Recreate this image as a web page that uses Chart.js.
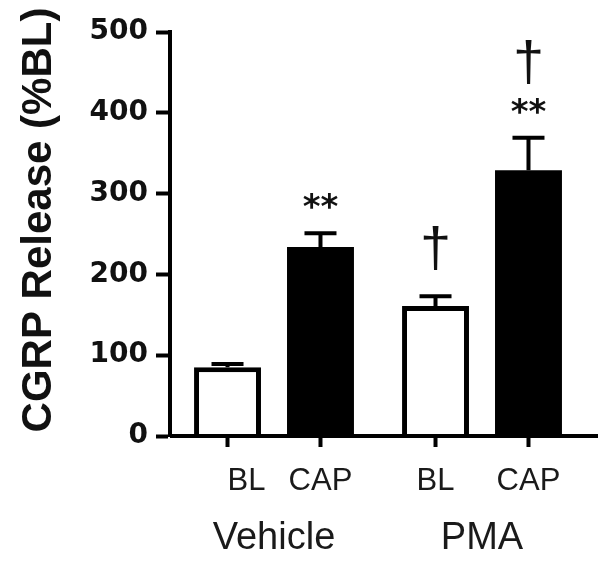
<html>
<head>
<script src="https://cdn.jsdelivr.net/npm/chart.js"></script>
<style>
  body { margin: 0; background: #fff; }
</style>
<script type="text/javascript">
// data
var groups = ['Vehicle', 'PMA'];
var conditions = ['BL', 'CAP'];
var blMeans = [85, 161];
var blErrors = [4, 12];
var capMeans = [234, 329];
var capErrors = [17, 40];
var blMarks = [[], ['\u2020']];
var capMarks = [['**'], ['**', '\u2020']];
var yTicks = [0, 100, 200, 300, 400, 500];
var yTitle = 'CGRP Release (%BL)';

var myChart = null;

// error bars, significance marks, sub labels and axis bits
var extras = {
    id: 'extras',
    afterDatasetsDraw: function (chart) {
        var ctx = chart.ctx;
        var y = chart.scales.y;
        var area = chart.chartArea;
        var errs = [blErrors, capErrors];
        var means = [blMeans, capMeans];
        var marks = [blMarks, capMarks];
        ctx.save();
        ctx.strokeStyle = '#000';
        ctx.lineWidth = 4;
        ctx.lineCap = 'butt';
        for (var d = 0; d < 2; d++) {
            var meta = chart.getDatasetMeta(d);
            for (var i = 0; i < meta.data.length; i++) {
                var bar = meta.data[i];
                var top = y.getPixelForValue(means[d][i] + errs[d][i]);
                ctx.beginPath();
                ctx.moveTo(bar.x, bar.y);
                ctx.lineTo(bar.x, top);
                ctx.moveTo(bar.x - 16, top);
                ctx.lineTo(bar.x + 16, top);
                ctx.stroke();
                // marks above the error bar, bottom-up
                var level = top;
                var daggerGap = 30;
                for (var m = 0; m < marks[d][i].length; m++) {
                    var txt = marks[d][i][m];
                    ctx.fillStyle = '#111';
                    ctx.textAlign = 'center';
                    ctx.textBaseline = 'alphabetic';
                    if (txt == '**') {
                        ctx.font = 'bold 34px "DejaVu Sans"';
                        ctx.fillText(txt, bar.x, level - 15);
                        level -= 31;
                        daggerGap = 27;
                    } else {
                        ctx.font = '56px "Liberation Sans"';
                        ctx.fillText(txt, bar.x, level - daggerGap);
                    }
                }
                // small tick under the bar and condition label
                ctx.beginPath();
                ctx.moveTo(bar.x, area.bottom);
                ctx.lineTo(bar.x, area.bottom + 11);
                ctx.stroke();
                ctx.fillStyle = '#1a1a1a';
                ctx.font = '31px "Liberation Sans"';
                ctx.textBaseline = 'middle';
                ctx.fillText(conditions[d], bar.x, area.bottom + 45);
            }
        }
        // x axis line running past the last bar
        ctx.beginPath();
        ctx.moveTo(area.left, area.bottom);
        ctx.lineTo(area.right + 12, area.bottom);
        ctx.stroke();
        // y axis title
        ctx.translate(39, 220);
        ctx.rotate(-Math.PI / 2);
        ctx.fillStyle = '#111';
        ctx.font = 'bold 42px "Liberation Sans"';
        ctx.textAlign = 'center';
        ctx.textBaseline = 'middle';
        ctx.fillText(yTitle, 0, 0);
        ctx.restore();
    }
};

function loadChart() {
    if (myChart != null) {
        return;
    }
    myChart = new Chart(document.getElementById('myChart'), {
        type: 'bar',
        data: {
            labels: groups,
            datasets: [{
                label: conditions[0],
                data: blMeans,
                backgroundColor: '#fff',
                borderColor: '#000',
                borderWidth: 5,
                borderSkipped: 'bottom'
            }, {
                label: conditions[1],
                data: capMeans,
                backgroundColor: '#000',
                borderColor: '#000',
                borderWidth: 0
            }]
        },
        options: {
            responsive: false,
            devicePixelRatio: 1,
            animation: false,
            categoryPercentage: 0.894,
            barPercentage: 0.72,
            layout: { padding: { top: 32, right: 15, left: 0, bottom: 0 } },
            plugins: { legend: { display: false }, tooltip: { enabled: false } },
            scales: {
                x: {
                    grid: { display: false },
                    border: { display: false },
                    ticks: {
                        color: '#1a1a1a',
                        font: { family: 'Liberation Sans', size: 38 },
                        padding: 72
                    },
                    afterFit: function (s) { s.height = 126; }
                },
                y: {
                    min: 0,
                    max: 500,
                    afterBuildTicks: function (s) {
                        s.ticks = yTicks.map(function (v) { return { value: v }; });
                    },
                    border: { display: true, color: '#000', width: 4 },
                    grid: {
                        drawOnChartArea: false,
                        drawTicks: true,
                        tickLength: 14,
                        tickWidth: 4,
                        tickColor: '#000'
                    },
                    ticks: {
                        color: '#111',
                        font: { family: 'DejaVu Sans', size: 28, weight: 'bold' },
                        padding: 8
                    },
                    afterFit: function (s) { s.width = 170; }
                }
            }
        },
        plugins: [extras]
    });
}
</script>
</head>
<body onLoad="loadChart()">
<canvas id="myChart" width="601" height="562"></canvas>
</body>
</html>
